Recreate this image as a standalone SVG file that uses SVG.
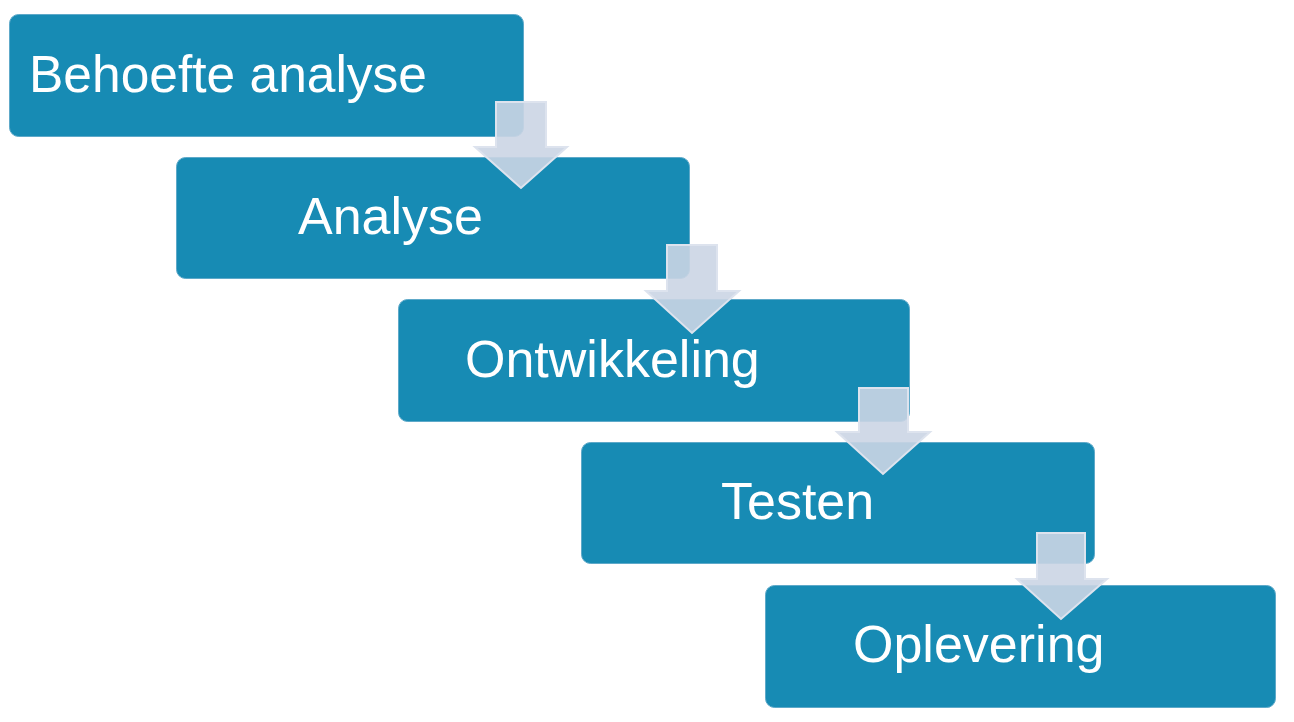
<svg xmlns="http://www.w3.org/2000/svg" width="1294" height="722" viewBox="0 0 1294 722">
<style>
.box{fill:#178bb4;stroke:#5ea9c9;stroke-width:1}
.lbl{font-family:"Liberation Sans",Arial,sans-serif;font-size:52px;fill:#ffffff}
.arr{fill:#cbd5e4;fill-opacity:0.9;stroke:#dde3ee;stroke-width:2;stroke-linejoin:miter}
</style>
<rect x="0" y="0" width="1294" height="722" fill="#ffffff"/>
<g id="node1"><rect class="box" x="9.5" y="14.5" width="514" height="122" rx="9"/><text class="lbl" x="29" y="92" textLength="398" lengthAdjust="spacingAndGlyphs">Behoefte analyse</text></g>
<g id="node2"><rect class="box" x="176.5" y="157.5" width="513" height="121" rx="9"/><text class="lbl" x="298" y="234">Analyse</text></g>
<g id="node3"><rect class="box" x="398.5" y="299.5" width="511" height="122" rx="9"/><text class="lbl" x="465" y="377">Ontwikkeling</text></g>
<g id="node4"><rect class="box" x="581.5" y="442.5" width="513" height="121" rx="9"/><text class="lbl" x="721" y="519">Testen</text></g>
<g id="node5"><rect class="box" x="765.5" y="585.5" width="510" height="122" rx="9"/><text class="lbl" x="853" y="662">Oplevering</text></g>
<g id="connectors">
<polygon class="arr" points="496,102 546,102 546,147 567,147 521,188 475,147 496,147"/>
<polygon class="arr" points="667,245 717,245 717,291 739,291 692,333 646,291 667,291"/>
<polygon class="arr" points="859,388 908,388 908,432 930,432 883,474 837,432 859,432"/>
<polygon class="arr" points="1037,533 1085,533 1085,579 1107,579 1061,619 1017,579 1037,579"/>
</g>
</svg>
